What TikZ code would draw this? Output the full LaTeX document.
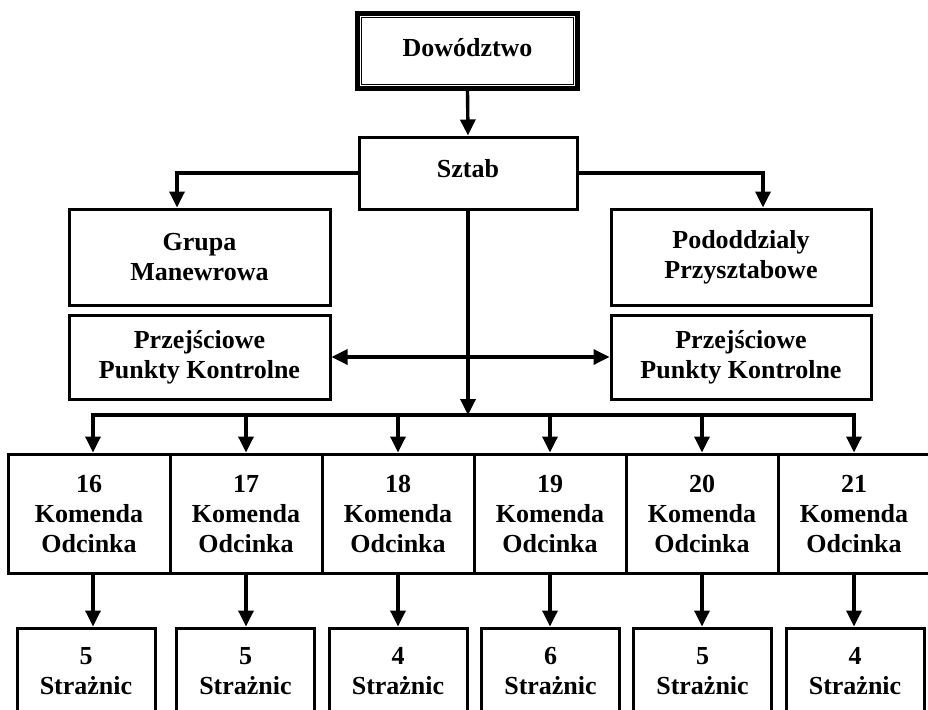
\documentclass[tikz,border=0pt]{standalone}
\usepackage{fontspec}
\setmainfont{Liberation Serif}
\usetikzlibrary{arrows.meta,positioning,calc}

\begin{document}
\begin{tikzpicture}[x=1pt,y=-1pt,
  bx/.style={draw,line width=3pt,align=center,inner sep=0pt,
    font=\fontsize{26}{30}\selectfont\bfseries},
  kb/.style={bx,minimum width=152pt,minimum height=119pt,text height=78pt,text depth=0pt},
  sb/.style={bx,minimum width=138pt,minimum height=119pt,text height=48pt,text depth=34pt},
  ar/.style={line width=3.4pt,-{Triangle[length=16pt,width=15pt]}},
  br/.style={line width=3.4pt,{Triangle[length=16pt,width=15pt]}-{Triangle[length=16pt,width=15pt]}}
]
\useasboundingbox (0,0) rectangle (928,709);
\clip (0,0) rectangle (928,709);
%--- top: command and staff ---
\node[bx,line width=5pt,minimum width=220pt,minimum height=75pt,text depth=8pt] (dow) at (467.5,51) {Dowództwo};
\draw[line width=1.8pt] ($(dow.north west)+(6.5,6.5)$) rectangle ($(dow.south east)+(-6.5,-6.5)$);
\node[bx,minimum width=218pt,minimum height=72pt,text depth=10pt] (sztab) at (468,173) {Sztab};
\draw[ar] (dow.south) -- (sztab.north);
%--- middle: side units ---
\node[bx,minimum width=261pt,minimum height=96pt] (grupa) at (199.5,257) {Grupa\\Manewrowa};
\node[bx,minimum width=260pt,minimum height=96pt] (podd) at (741,257) {Pododdzialy\\Przysztabowe};
\node[bx,minimum width=261pt,minimum height=84pt] (pkl) at (199.5,357) {Przejściowe\\Punkty Kontrolne};
\node[bx,minimum width=260pt,minimum height=84pt] (pkr) at (741,357) {Przejściowe\\Punkty Kontrolne};
\draw[ar] (sztab.west) -| ([xshift=-22.5pt]grupa.north);
\draw[ar] (sztab.east) -| ([xshift=22pt]podd.north);
\draw[br] (pkl.east) -- (pkr.west);
%--- sector commands ---
\node[kb,minimum width=162pt] (k16) at (89,513.5) {16\\Komenda\\Odcinka};
\node[kb] (k17) at (246,513.5) {17\\Komenda\\Odcinka};
\node[kb] (k18) at (398,513.5) {18\\Komenda\\Odcinka};
\node[kb] (k19) at (550,513.5) {19\\Komenda\\Odcinka};
\node[kb] (k20) at (702,513.5) {20\\Komenda\\Odcinka};
\node[kb] (k21) at (854,513.5) {21\\Komenda\\Odcinka};
\coordinate (bus) at (468,415);
\draw[ar] (sztab.south) -- (bus);
\draw[ar] (bus) -| ([xshift=4pt]k16.north);
\draw[ar] (bus) -| (k21.north);
\draw[ar] (k17.north |- bus) -- (k17.north);
\draw[ar] (k18.north |- bus) -- (k18.north);
\draw[ar] (k19.north |- bus) -- (k19.north);
\draw[ar] (k20.north |- bus) -- (k20.north);
%--- watchtowers ---
\node[sb] (s16) at (86,687.5) {5\\Strażnic};
\node[sb] (s17) at (245.5,687.5) {5\\Strażnic};
\node[sb] (s18) at (398,687.5) {4\\Strażnic};
\node[sb] (s19) at (550.5,687.5) {6\\Strażnic};
\node[sb] (s20) at (702.5,687.5) {5\\Strażnic};
\node[sb] (s21) at (855,687.5) {4\\Strażnic};
\draw[ar] ([xshift=4pt]k16.south) -- ([xshift=4pt]k16.south |- s16.north);
\draw[ar] (k17.south) -- (k17.south |- s17.north);
\draw[ar] (k18.south) -- (k18.south |- s18.north);
\draw[ar] (k19.south) -- (k19.south |- s19.north);
\draw[ar] (k20.south) -- (k20.south |- s20.north);
\draw[ar] (k21.south) -- (k21.south |- s21.north);
\end{tikzpicture}
\end{document}
